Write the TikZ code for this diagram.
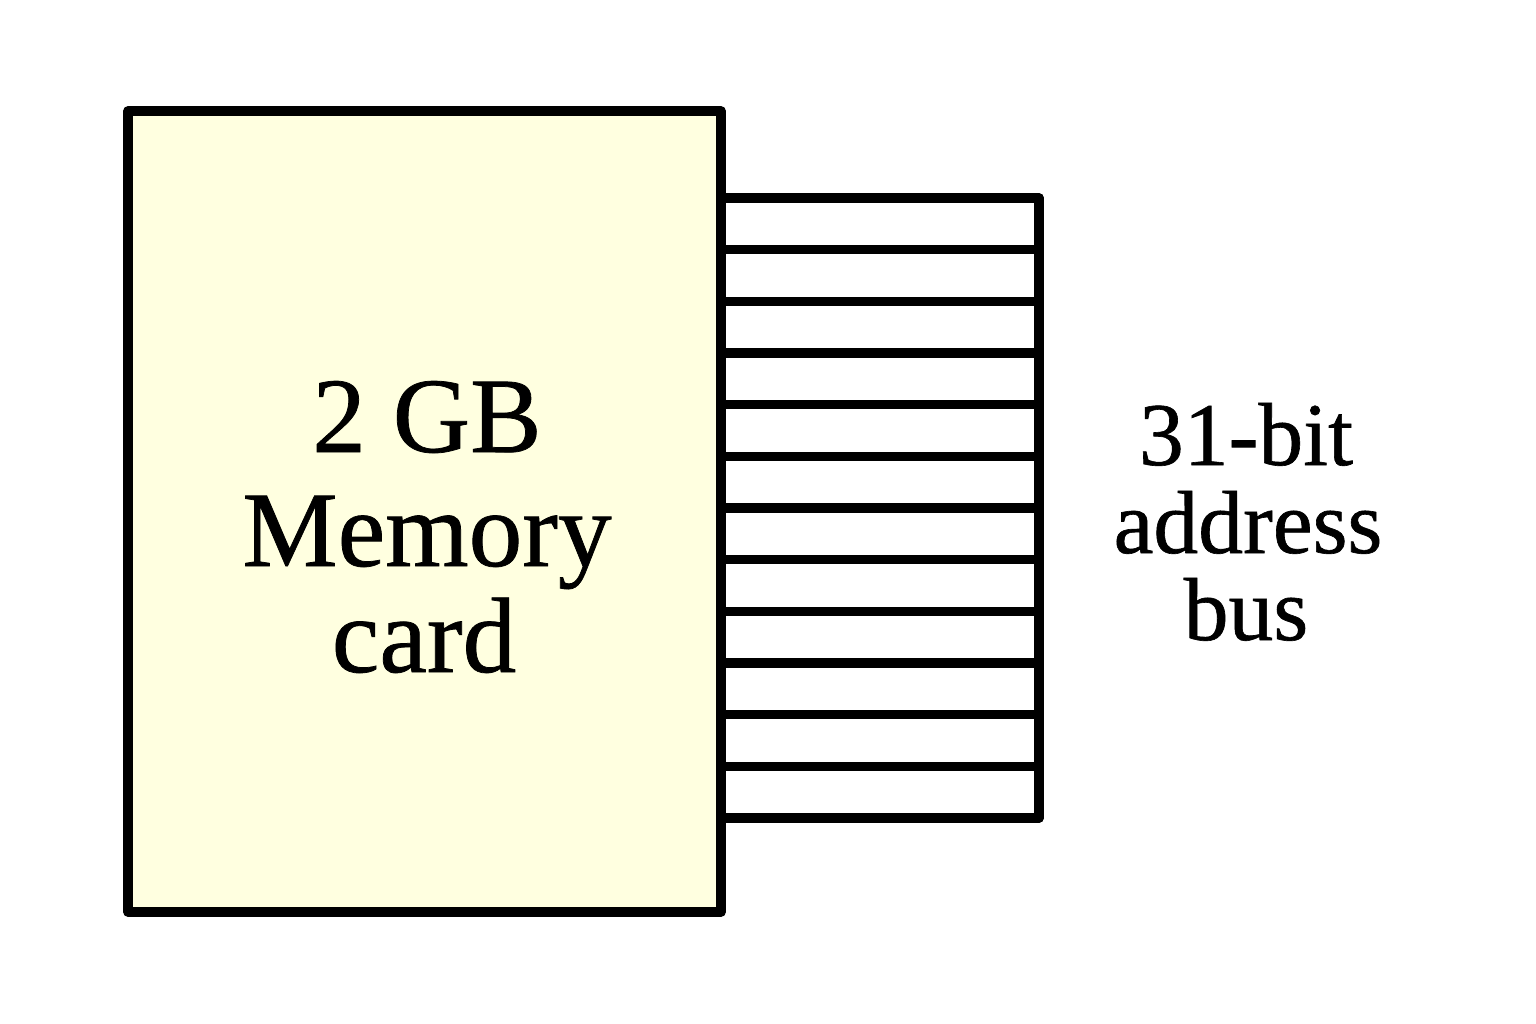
\documentclass[tikz,border=0pt]{standalone}
\usepackage{fontspec}
\setmainfont{Liberation Serif}
\newfontfamily\labelfont[FakeBold=0.7]{Liberation Serif}
\definecolor{cardfill}{HTML}{FFFFE0}
\begin{document}
\begin{tikzpicture}[x=0.02cm,y=-0.02cm,
  thick line/.style={line width=0.19cm,line join=round,line cap=round},
  bigtext/.style={font=\labelfont\fontsize{61}{64}\selectfont,anchor=base,inner sep=0pt},
  bustext/.style={font=\labelfont\fontsize{51}{54}\selectfont,anchor=base,inner sep=0pt}]
\useasboundingbox (0,0) rectangle (1536,1024);
% memory card
\draw[thick line,fill=cardfill] (128,111) rectangle (721,912);
% bus lines
\foreach \i in {0,...,12}{
  \draw[thick line] (721,198+51.667*\i) -- (1039,198+51.667*\i);
}
\draw[thick line] (1039,198) -- (1039,818);
% labels
\node[bigtext] (l1) at (427,452) {2 GB};
\node[bigtext] (l2) at (427,566) {Memory};
\node[bigtext] (l3) at (424,672) {card};
\node[bustext] (r1) at (1246,465) {31-bit};
\node[bustext] (r2) at (1248,553) {address};
\node[bustext] (r3) at (1246,640) {bus};
\end{tikzpicture}
\end{document}
